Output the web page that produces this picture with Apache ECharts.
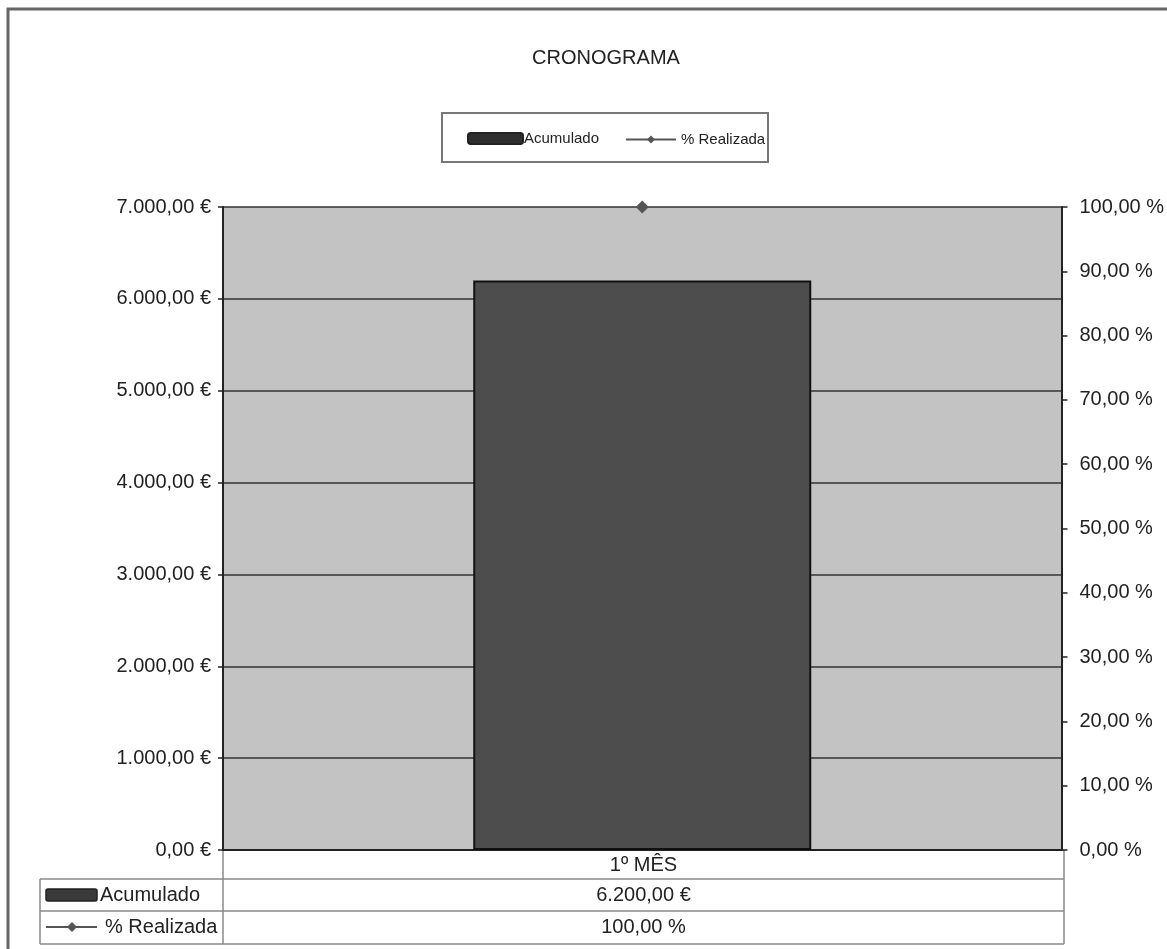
<!DOCTYPE html>
<html><head><meta charset="utf-8">
<script src="https://cdn.jsdelivr.net/npm/echarts@6/dist/echarts.min.js"></script>
<style>html,body{margin:0;padding:0;background:#fff}#c{width:1167px;height:949px}</style>
</head><body><div id="c"></div>
<script>
const titleText = 'CRONOGRAMA';
const categories = ['1º MÊS'];
const seriesNames = ['Acumulado', '% Realizada'];
const acumulado = [6200];
const realizada = [100];
const leftTicks = {min: 0, max: 7000, interval: 1000};
const rightTicks = {min: 0, max: 100, interval: 10};

const FONT = 'Liberation Sans, Arial, sans-serif';
const TXT = '#222';
function fmtNum(v) {
  const parts = v.toFixed(2).split('.');
  parts[0] = parts[0].replace(/\B(?=(\d{3})+(?!\d))/g, '.');
  return parts[0] + ',' + parts[1];
}
const fmtEuro = v => fmtNum(v) + ' €';
const fmtPct = v => fmtNum(v) + ' %';

const G = {left: 223, right: 103, top: 207, bottom: 99};
const W = 1167, H = 949;
const gx0 = G.left, gx1 = W - G.right, gy1 = H - G.bottom;
const rowH = [gy1, 879, 911, 944];
const cx = (gx0 + gx1) / 2;
const lineCol = '#8a8a8a';

const chart = echarts.init(document.getElementById('c'));

const graphics = [
  {type: 'rect', shape: {x: 8, y: 9, width: 1300, height: 1100}, style: {fill: 'none', stroke: '#666', lineWidth: 3}, silent: true},
  {type: 'rect', shape: {x: 442, y: 113, width: 326, height: 49}, style: {fill: 'none', stroke: '#777', lineWidth: 2}, silent: true},
  // table lines
  {type: 'line', shape: {x1: 40, y1: rowH[1], x2: gx1, y2: rowH[1]}, style: {stroke: lineCol, lineWidth: 1.5}},
  {type: 'line', shape: {x1: 40, y1: rowH[2], x2: gx1, y2: rowH[2]}, style: {stroke: lineCol, lineWidth: 1.5}},
  {type: 'line', shape: {x1: 40, y1: rowH[3], x2: gx1, y2: rowH[3]}, style: {stroke: lineCol, lineWidth: 1.5}},
  {type: 'line', shape: {x1: 40, y1: rowH[1], x2: 40, y2: rowH[3]}, style: {stroke: lineCol, lineWidth: 1.5}},
  {type: 'line', shape: {x1: gx0, y1: rowH[0], x2: gx0, y2: rowH[3]}, style: {stroke: lineCol, lineWidth: 1.5}},
  {type: 'line', shape: {x1: gx1, y1: rowH[0], x2: gx1, y2: rowH[3]}, style: {stroke: lineCol, lineWidth: 1.5}},
  // table key: Acumulado
  {type: 'rect', shape: {x: 46, y: 889, width: 51, height: 12, r: 2}, style: {fill: '#3a3a3a', stroke: '#222', lineWidth: 1.5}},
  {type: 'text', x: 100, y: (rowH[1] + rowH[2]) / 2, style: {text: seriesNames[0], font: '20px ' + FONT, fill: TXT, textVerticalAlign: 'middle', textAlign: 'left'}},
  // table key: % Realizada
  {type: 'line', shape: {x1: 46, y1: 927, x2: 97, y2: 927}, style: {stroke: '#555', lineWidth: 2}},
  {type: 'polygon', shape: {points: [[72, 922], [77, 927], [72, 932], [67, 927]]}, style: {fill: '#555'}},
  {type: 'text', x: 105, y: (rowH[2] + rowH[3]) / 2, style: {text: seriesNames[1], font: '20px ' + FONT, fill: TXT, textVerticalAlign: 'middle', textAlign: 'left'}}
];
categories.forEach((c, i) => {
  graphics.push({type: 'text', x: cx, y: (rowH[0] + rowH[1]) / 2 + 1, style: {text: c, font: '20px ' + FONT, fill: TXT, textAlign: 'center', textVerticalAlign: 'middle'}});
  graphics.push({type: 'text', x: cx, y: (rowH[1] + rowH[2]) / 2, style: {text: fmtEuro(acumulado[i]), font: '20px ' + FONT, fill: TXT, textAlign: 'center', textVerticalAlign: 'middle'}});
  graphics.push({type: 'text', x: cx, y: (rowH[2] + rowH[3]) / 2, style: {text: fmtPct(realizada[i]), font: '20px ' + FONT, fill: TXT, textAlign: 'center', textVerticalAlign: 'middle'}});
});

chart.setOption({
  animation: false,
  title: {text: titleText, left: 601, top: 43, textAlign: 'center', textStyle: {fontFamily: FONT, fontSize: 20, fontWeight: 'normal', color: TXT}},
  legend: [
    {data: [{name: seriesNames[0], icon: 'roundRect', itemStyle: {color: '#2e2e2e', borderColor: '#222'}}], left: 467, top: 131, padding: 0, itemWidth: 55, itemHeight: 11, itemGap: 0,
     textStyle: {fontFamily: FONT, fontSize: 15, color: TXT, padding: [0, 0, 0, -4]}},
    {data: [seriesNames[1]], left: 625, top: 132, padding: 0, itemWidth: 50, itemHeight: 10, itemGap: 0,
     textStyle: {fontFamily: FONT, fontSize: 15, color: TXT, padding: [0, 0, 0, 0]}}
  ],
  grid: {left: G.left, right: G.right, top: G.top, bottom: G.bottom, show: true, backgroundColor: '#c3c3c3', borderWidth: 0},
  xAxis: {type: 'category', data: categories,
    axisLine: {lineStyle: {color: '#222', width: 2}}, axisTick: {show: false}, axisLabel: {show: false}},
  yAxis: [
    {type: 'value', min: leftTicks.min, max: leftTicks.max, interval: leftTicks.interval, position: 'left',
     axisLine: {show: true, lineStyle: {color: '#222', width: 2}},
     axisTick: {show: true, length: 5, lineStyle: {color: '#222', width: 1.5}},
     axisLabel: {formatter: fmtEuro, fontFamily: FONT, fontSize: 20, color: TXT, margin: 12},
     splitLine: {show: true, lineStyle: {color: '#333', width: 1.5}}},
    {type: 'value', min: rightTicks.min, max: rightTicks.max, interval: rightTicks.interval, position: 'right',
     axisLine: {show: true, lineStyle: {color: '#222', width: 2}},
     axisTick: {show: true, length: 6, lineStyle: {color: '#222', width: 1.5}},
     axisLabel: {formatter: fmtPct, fontFamily: FONT, fontSize: 20, color: TXT, margin: 18},
     splitLine: {show: false}}
  ],
  series: [
    {name: seriesNames[0], type: 'bar', data: acumulado, barWidth: 338,
     itemStyle: {color: '#4d4d4d', borderColor: '#111', borderWidth: 2}},
    {name: seriesNames[1], type: 'line', yAxisIndex: 1, data: realizada, symbol: 'diamond', symbolSize: 13, clip: false, z: 5,
     itemStyle: {color: '#555'}, lineStyle: {color: '#555', width: 2}}
  ],
  graphic: graphics
});
</script></body></html>
